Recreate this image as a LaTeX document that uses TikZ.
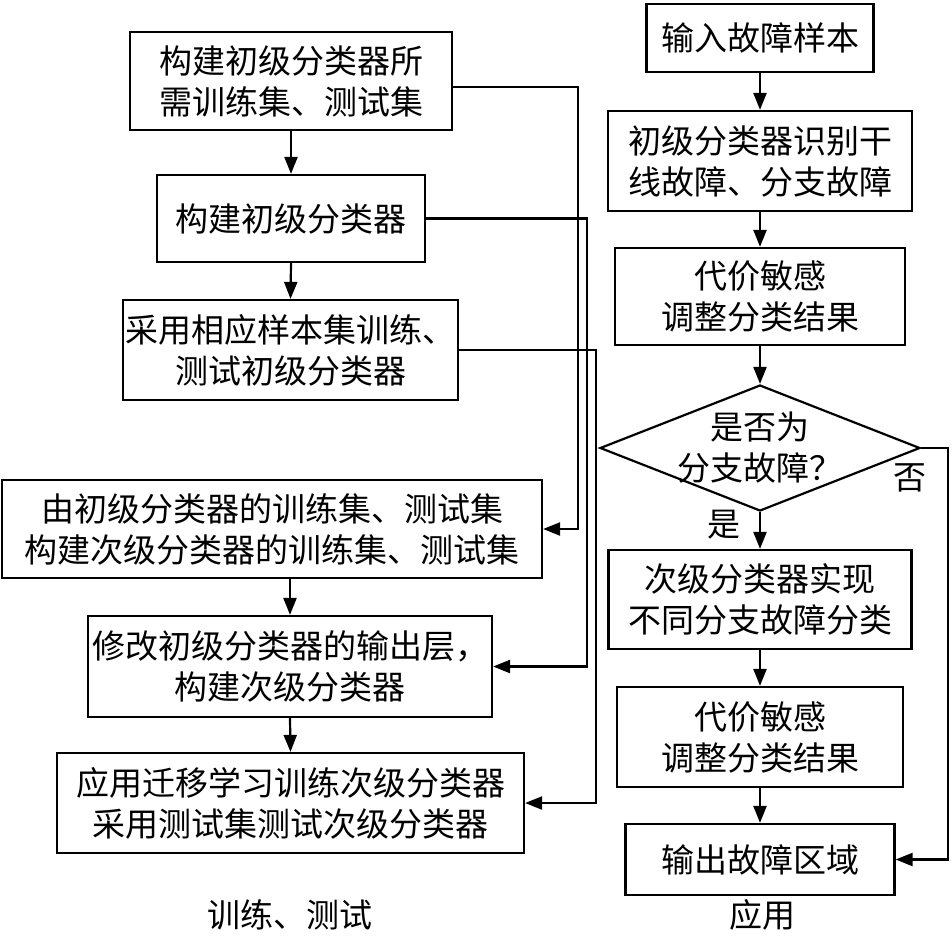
\documentclass[tikz,border=0pt]{standalone}
\usepackage{fontspec}
\setmainfont{Noto Sans CJK SC}
\usetikzlibrary{arrows.meta,shapes.geometric}
\begin{document}
\begin{tikzpicture}[x=1pt,y=-1pt,
  every node/.style={font=\fontsize{33}{41}\selectfont},
  box/.style={draw,line width=2.2pt,rectangle,inner sep=0pt,align=center},
  lbl/.style={inner sep=0pt},
  arr/.style={line width=2.2pt,-{Triangle[length=17pt,width=13pt]}},
  ln/.style={line width=2.2pt}]
\useasboundingbox (0,0) rectangle (952,938);
% left column
\node[box,minimum width=322,minimum height=98] (L1) at (291,81) {构建初级分类器所\\需训练集、测试集};
\node[box,minimum width=268,minimum height=87] (L2) at (291,218.5) {构建初级分类器};
\node[box,minimum width=335,minimum height=100] (L3) at (290.5,350) {采用相应样本集训练、\\测试初级分类器};
\node[box,minimum width=540,minimum height=98] (L4) at (272,529) {由初级分类器的训练集、测试集\\构建次级分类器的训练集、测试集};
\node[box,minimum width=404,minimum height=101] (L5) at (290,666.5) {修改初级分类器的输出层，\\构建次级分类器};
\node[box,minimum width=467,minimum height=100] (L6) at (290.5,803) {应用迁移学习训练次级分类器\\采用测试集测试次级分类器};
\draw[arr] (L1.south) -- (L2.north);
\draw[arr] (L2.south) -- (L3.north);
\draw[arr] (L4.south -| L5.north) -- (L5.north);
\draw[arr] (L5.south) -- (L6.north);
\coordinate (c1) at (578,87);
\coordinate (c2) at (587,218.5);
\coordinate (c3) at (596,350);
\draw[arr] (L1.east |- c1) -- (c1) |- (L4.east);
\draw[arr] (L2.east) -- (c2) |- (L5.east);
\draw[arr] (L3.east) -- (c3) |- (L6.east);
% right column
\node[box,minimum width=227,minimum height=68] (R1) at (760,38) {输入故障样本};
\node[box,minimum width=304,minimum height=100] (R2) at (760,161) {初级分类器识别干\\线故障、分支故障};
\node[box,minimum width=290,minimum height=97] (R3) at (760,296.5) {代价敏感\\调整分类结果};
\node[draw,line width=2.2pt,diamond,minimum width=320,minimum height=126,inner sep=0pt] (D) at (760,448) {};
\node[lbl,align=center] (Dt) at (D.center) {是否为\\分支故障？};
\node[box,minimum width=303,minimum height=99] (R4) at (760,599.5) {次级分类器实现\\不同分支故障分类};
\node[box,minimum width=286,minimum height=100] (R5) at (760,737) {代价敏感\\调整分类结果};
\node[box,minimum width=269,minimum height=71] (R6) at (760,859.5) {输出故障区域};
\draw[arr] (R1.south) -- (R2.north);
\draw[arr] (R2.south) -- (R3.north);
\draw[arr] (R3.south) -- (D.north);
\draw[arr] (D.south) -- (R4.north);
\draw[arr] (R4.south) -- (R5.north);
\draw[arr] (R5.south) -- (R6.north);
\coordinate (c4) at (948,448);
\draw[arr] (D.east) -- (c4) |- (R6.east);
\node[lbl] (no) at (910,478) {否};
\node[lbl] (yes) at (724,525) {是};
% captions
\node[lbl] (cap1) at (290,915) {训练、测试};
\node[lbl] (cap2) at (762,915) {应用};
\end{tikzpicture}
\end{document}
